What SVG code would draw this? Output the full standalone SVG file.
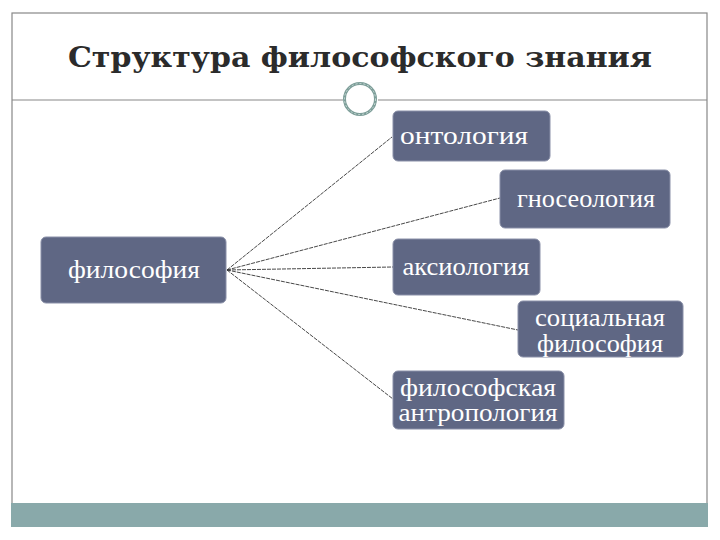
<svg xmlns="http://www.w3.org/2000/svg" width="720" height="540" viewBox="0 0 720 540">
<style>
.box{fill:#5f6784;stroke:#8a90a8;stroke-width:1}
.lbl{font-family:"Liberation Serif","DejaVu Serif",serif;font-size:25px;fill:#ffffff;text-anchor:middle}
.con{stroke:#333;stroke-width:0.9;fill:none;stroke-dasharray:4 1}
</style>
<rect width="720" height="540" fill="#ffffff"/>
<g id="frame">
<rect x="12" y="13" width="695" height="500" fill="none" stroke="#888" stroke-width="1.2"/>
<line x1="12" y1="100" x2="343" y2="100" stroke="#888" stroke-width="1.2"/>
<line x1="378" y1="100" x2="707" y2="100" stroke="#888" stroke-width="1.2"/>
<circle cx="360" cy="99" r="15.5" fill="#fff" stroke="#7d9e99" stroke-width="3"/>
<circle cx="360" cy="99" r="15.5" fill="none" stroke="#c9dad7" stroke-width="1" stroke-dasharray="2 2"/>
<rect x="11" y="503" width="697" height="24" fill="#89a9aa"/>
</g>
<text x="360" y="67" font-family="DejaVu Serif, Liberation Serif, serif" font-size="28" font-weight="bold" fill="#2b2b2b" text-anchor="middle" textLength="584" lengthAdjust="spacingAndGlyphs">Структура философского знания</text>
<g id="connectors">
<line class="con" x1="227" y1="270" x2="392" y2="137"/>
<line class="con" x1="227" y1="270" x2="500" y2="198"/>
<line class="con" x1="227" y1="270" x2="393" y2="267"/>
<line class="con" x1="227" y1="270" x2="518" y2="330"/>
<line class="con" x1="227" y1="270" x2="393" y2="399"/>
</g>
<g id="filosofia">
<rect class="box" x="41" y="237" width="185" height="66" rx="5"/>
<text class="lbl" x="134" y="278" textLength="132" lengthAdjust="spacingAndGlyphs">философия</text>
</g>
<g id="ontologia">
<rect class="box" x="393" y="111" width="157" height="50" rx="5"/>
<text class="lbl" x="464" y="144" textLength="128" lengthAdjust="spacingAndGlyphs">онтология</text>
</g>
<g id="gnoseologia">
<rect class="box" x="500" y="170" width="170" height="58" rx="5"/>
<text class="lbl" x="586" y="207" textLength="138" lengthAdjust="spacingAndGlyphs">гносеология</text>
</g>
<g id="aksiologia">
<rect class="box" x="393" y="239" width="147" height="56" rx="5"/>
<text class="lbl" x="466" y="275" textLength="127" lengthAdjust="spacingAndGlyphs">аксиология</text>
</g>
<g id="social">
<rect class="box" x="518" y="301" width="165" height="56" rx="5"/>
<text class="lbl" x="600" y="326" textLength="130" lengthAdjust="spacingAndGlyphs">социальная</text>
<text class="lbl" x="600" y="352" textLength="126" lengthAdjust="spacingAndGlyphs">философия</text>
</g>
<g id="antropologia">
<rect class="box" x="393" y="371" width="171" height="58" rx="5"/>
<text class="lbl" x="478" y="396" textLength="156" lengthAdjust="spacingAndGlyphs">философская</text>
<text class="lbl" x="478" y="421" textLength="159" lengthAdjust="spacingAndGlyphs">антропология</text>
</g>
</svg>
